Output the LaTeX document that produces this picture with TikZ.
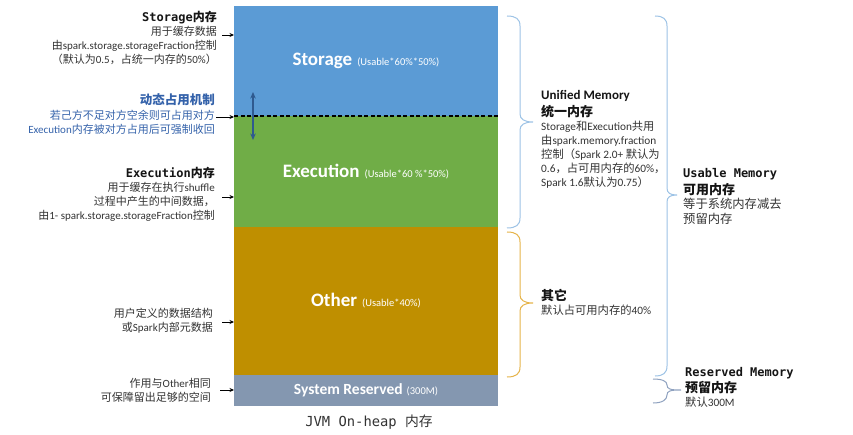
\documentclass[tikz,border=0pt]{standalone}
\usepackage{fontspec}
\setmainfont{Carlito}
\setmonofont{DejaVu Sans Mono}
\newfontfamily\cjk{Noto Sans CJK SC}
\newcommand\zh[1]{{\cjk #1}}
\usetikzlibrary{arrows.meta}
\definecolor{stblue}{HTML}{5B9BD5}
\definecolor{exgreen}{HTML}{70AD47}
\definecolor{otgold}{HTML}{BF8F00}
\definecolor{srgray}{HTML}{8497B0}
\definecolor{dynblue}{HTML}{2F5A8F}
\definecolor{dyntxt}{HTML}{3462AA}
\definecolor{txt}{HTML}{333333}
\definecolor{ttl}{HTML}{151515}
\definecolor{brblue}{HTML}{9DC3E6}
\definecolor{brgold}{HTML}{E6B44A}
\definecolor{brgray}{HTML}{8FA2C0}
\tikzset{
  mem/.style={draw=none, minimum width=264pt, inner sep=0pt, outer sep=0pt, anchor=north west, text=white},
  lefttxt/.style={anchor=east, align=right, inner sep=0pt, text=txt, font=\fontsize{11}{14}\selectfont},
  righttxt/.style={anchor=west, align=left, inner sep=0pt, text=txt, font=\fontsize{11.3}{14}\selectfont},
  arr/.style={-{Stealth[length=4.5pt,width=4pt]}, line width=0.9pt, black},
  dynarr/.style={{Stealth[length=6.5pt,width=5.5pt]}-{Stealth[length=6.5pt,width=5.5pt]}, line width=1.5pt, dynblue},
  bracestyle/.style={line width=1pt},
}
\newcommand\monottl[1]{{\color{ttl}\ttfamily\bfseries\fontsize{12}{15}\selectfont #1}}
\newcommand\bttl[1]{{\color{ttl}\bfseries\fontsize{13}{16}\selectfont #1}}
\begin{document}
\begin{tikzpicture}[x=1pt,y=-1pt]
\useasboundingbox[fill=white] (0,0) rectangle (853,435);
% memory column
\node[mem, fill=stblue, minimum height=110pt] (storage) at (234,6)
  {{\fontsize{19}{22}\selectfont\bfseries Storage}\hspace{5pt}{\fontsize{10.5}{12}\selectfont (Usable*60\%*50\%)}};
\node[mem, fill=exgreen, minimum height=111pt] (execution) at (234,116)
  {{\fontsize{19}{22}\selectfont\bfseries Execution}\hspace{5pt}{\fontsize{10.5}{12}\selectfont (Usable*60 \%*50\%)}};
\node[mem, fill=otgold, minimum height=148pt] (other) at (234,227)
  {{\fontsize{19}{22}\selectfont\bfseries Other}\hspace{5pt}{\fontsize{10.5}{12}\selectfont (Usable*40\%)}};
\node[mem, fill=srgray, minimum height=31pt] (reserved) at (234,375)
  {{\fontsize{15.5}{18}\selectfont\bfseries System Reserved}\hspace{4pt}{\fontsize{10.5}{12}\selectfont (300M)}};
\draw[line width=1.6pt, black, dash pattern=on 4pt off 2.5pt] (storage.south west) -- (storage.south east);
\node[inner sep=0pt, text=txt] (jvm) at (369,422) {\ttfamily\fontsize{13.8}{15}\selectfont JVM On-heap \zh{内存}};
% dynamic arrow
\coordinate (dynTop) at (253,92);
\coordinate (dynBot) at (253,140);
\draw[dynarr] (dynTop) -- (dynBot);
% left texts
\node[lefttxt] (stxt) at (217,37.5) {\monottl{Storage\zh{内存}}\\
  \zh{用于缓存数据}\\
  \zh{由}spark.storage.storageFraction\zh{控制}\\
  \zh{（默认为}0.5\zh{，占统一内存的}50\%\zh{）}};
\node[lefttxt, text=dyntxt] (dtxt) at (215,114.5) {{\bfseries\fontsize{12.5}{15}\selectfont\zh{动态占用机制}}\\[1pt]
  \zh{若己方不足对方空余则可占用对方}\\
  Execution\zh{内存被对方占用后可强制收回}};
\node[lefttxt] (etxt) at (215,194.5) {\monottl{Execution\zh{内存}}\\
  \zh{用于缓存在执行}shuffle\\
  \zh{过程中产生的中间数据，}\\
  \zh{由}1- spark.storage.storageFraction\zh{控制}};
\node[lefttxt] (otxt) at (213,321) {\zh{用户定义的数据结构}\\
  \zh{或}Spark\zh{内部元数据}};
\node[lefttxt] (rtxt) at (211,390) {\zh{作用与}Other\zh{相同}\\
  \zh{可保障留出足够的空间}};
% left arrows
\coordinate (aS) at (222,35);
\coordinate (aD) at (216,117);
\coordinate (aE) at (222,197);
\coordinate (aO) at (222,322);
\coordinate (aR) at (220,390);
\draw[arr] (aS) -- (aS -| storage.west);
\draw[arr] (aD) -- (aD -| storage.west);
\draw[arr] (aE) -- (aE -| execution.west);
\draw[arr] (aO) -- (aO -| other.west);
\draw[arr] (aR) -- (aR -| reserved.west);
% braces
\draw[bracestyle, brblue] (507,16) .. controls (516,16) and (520,19) .. (520,26) -- (520,114)
  .. controls (520,119) and (524,122) .. (533,122) .. controls (524,122) and (520,125) .. (520,130)
  -- (520,218) .. controls (520,225) and (516,228) .. (507,228);
\draw[bracestyle, brgold] (507,232) .. controls (516,232) and (520,235) .. (520,242) -- (520,295)
  .. controls (520,300) and (524,303) .. (533,303) .. controls (524,303) and (520,306) .. (520,311)
  -- (520,367) .. controls (520,374) and (516,377) .. (507,377);
\draw[bracestyle, brblue] (655,16) .. controls (663,16) and (667,19) .. (667,26) -- (667,188)
  .. controls (667,193) and (670,195) .. (677,195) .. controls (670,195) and (667,197) .. (667,202)
  -- (667,366) .. controls (667,373) and (663,376) .. (655,376);
\draw[bracestyle, brgray] (653,379) .. controls (662,379) and (667,381) .. (667,385)
  .. controls (667,389) and (670,390) .. (681,390) .. controls (670,390) and (667,391) .. (667,395)
  .. controls (667,400) and (662,403) .. (653,403);
% right texts
\node[righttxt] (utxt) at (541,139.5) {\bttl{Unified Memory}\\[2.5pt]
  \bttl{\zh{统一内存}}\\
  Storage\zh{和}Execution\zh{共用}\\
  \zh{由}spark.memory.fraction\\
  \zh{控制（}Spark 2.0+ \zh{默认为}\\
  0.6\zh{，占可用内存的}60\%\zh{，}\\
  Spark 1.6\zh{默认为}0.75\zh{）}};
\node[righttxt] (otxt2) at (541,302) {\bttl{\zh{其它}}\\
  \zh{默认占可用内存的}40\%};
\node[righttxt, font=\fontsize{12.3}{14.5}\selectfont] (ustxt) at (683,196) {\monottl{Usable Memory}\\[2.5pt]
  \bttl{\zh{可用内存}}\\
  \zh{等于系统内存减去}\\
  \zh{预留内存}};
\node[righttxt] (rstxt) at (685,387.5) {\monottl{Reserved Memory}\\[2.5pt]
  \bttl{\zh{预留内存}}\\
  \zh{默认}300M};
\end{tikzpicture}
\end{document}
